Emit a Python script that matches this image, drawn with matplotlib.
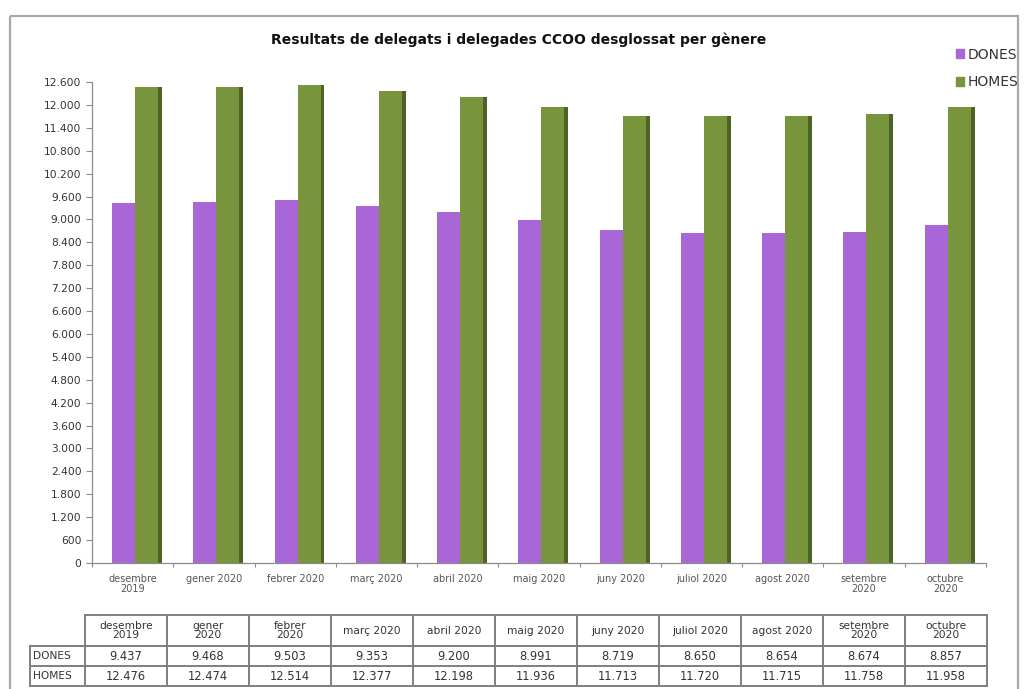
import numpy as np
import matplotlib
matplotlib.use("Agg")
import matplotlib.pyplot as plt
from matplotlib.patches import Rectangle, Patch
from matplotlib.ticker import FuncFormatter

# dades
mesos_eix = ["desembre\n2019", "gener 2020", "febrer 2020", "març 2020", "abril 2020",
             "maig 2020", "juny 2020", "juliol 2020", "agost 2020", "setembre\n2020",
             "octubre\n2020"]
mesos_taula = ["desembre\n2019", "gener\n2020", "febrer\n2020", "març 2020", "abril 2020",
               "maig 2020", "juny 2020", "juliol 2020", "agost 2020", "setembre\n2020",
               "octubre\n2020"]
dones = [9437, 9468, 9503, 9353, 9200, 8991, 8719, 8650, 8654, 8674, 8857]
homes = [12476, 12474, 12514, 12377, 12198, 11936, 11713, 11720, 11715, 11758, 11958]
series = ["DONES", "HOMES"]
y_ticks = np.arange(0, 12601, 600)

PURPLE = "#A866D6"
GREEN = "#78943C"
DARK = "#4E6427"
GRID = "#8C8C8C"

W, H = 1029, 689
fig = plt.figure(figsize=(W / 100, H / 100), dpi=100)

# capa de fons en pixels per marc, llegenda i taula
bg = fig.add_axes([0, 0, 1, 1])
bg.set_xlim(0, W)
bg.set_ylim(H, 0)
bg.axis("off")
bg.add_patch(Rectangle((10, 16), 1008, 690, fill=False, ec="#A8A8A8", lw=1.6))


def fmt(v):
    return f"{int(v):,}".replace(",", ".")


# grafic de barres
ax = fig.add_axes([92 / W, 1 - 563 / H, (986 - 92) / W, (563 - 82) / H])
x = np.arange(len(dones))
bw = 0.283
ax.bar(x - 0.254 + bw / 2, dones, width=bw, color=PURPLE, label=series[0])
ax.bar(x + 0.029 + bw / 2, homes, width=bw, color=GREEN, label=series[1])
ax.bar(x + 0.312 + 0.024, homes, width=0.048, color=DARK)

ax.set_xlim(-0.5, len(dones) - 0.5)
ax.set_ylim(0, 12600)
ax.set_yticks(y_ticks)
ax.yaxis.set_major_formatter(FuncFormatter(lambda v, p: fmt(v)))
ax.tick_params(axis="y", labelsize=7.7, colors=GRID, labelcolor="#333333", length=4, width=0.8)
ax.set_xticks(x)
ax.set_xticklabels(mesos_eix, fontsize=7, color="#555555", linespacing=1.0)
ax.tick_params(axis="x", length=0, pad=8)
ax.set_xticks(np.arange(-0.5, len(dones)), minor=True)
ax.tick_params(axis="x", which="minor", length=3, colors=GRID, width=0.8)
for s in ["top", "right"]:
    ax.spines[s].set_visible(False)
for s in ["left", "bottom"]:
    ax.spines[s].set_color(GRID)
    ax.spines[s].set_linewidth(0.9)
ax.patch.set_alpha(0)

fig.text(519 / W, 1 - 40 / H, "Resultats de delegats i delegades CCOO desglossat per gènere",
         ha="center", va="center", fontsize=10, fontweight="bold", color="#111111")

fig.legend(handles=[Patch(color=PURPLE), Patch(color=GREEN)], labels=series,
           loc="upper left", bbox_to_anchor=(950 / W, 1 - 42 / H), frameon=False,
           fontsize=10, handlelength=0.6, handleheight=0.6, handletextpad=0.3,
           labelspacing=1.0, labelcolor="#333333", borderaxespad=0)

# taula de dades
c0, cw = 85, 82
lab0 = 30
r_top, r_head, r1, r2 = 615, 646, 666, 686
ncol = len(mesos_taula)
tc = "#7F7F7F"
bg.plot([c0, c0 + cw * ncol], [r_top, r_top], color=tc, lw=1.4)
for yy in (r_head, r1, r2):
    bg.plot([lab0, c0 + cw * ncol], [yy, yy], color=tc, lw=1.4)
bg.plot([lab0, lab0], [r_head, r2], color=tc, lw=1.4)
for i in range(ncol + 1):
    bg.plot([c0 + cw * i] * 2, [r_top, r2], color=tc, lw=1.4)
for i, m in enumerate(mesos_taula):
    cx = c0 + cw * (i + 0.5)
    bg.text(cx, (r_top + r_head) / 2, m, ha="center", va="center", fontsize=7.7,
            color="#333333", linespacing=0.95)
    bg.text(cx, (r_head + r1) / 2, fmt(dones[i]), ha="center", va="center", fontsize=8.3,
            color="#333333")
    bg.text(cx, (r1 + r2) / 2, fmt(homes[i]), ha="center", va="center", fontsize=8.3,
            color="#333333")
for nm, (a, b) in zip(series, [(r_head, r1), (r1, r2)]):
    bg.text(lab0 + 3, (a + b) / 2, nm, ha="left", va="center", fontsize=7.7, color="#333333")

fig.savefig("out.png", dpi=100)
